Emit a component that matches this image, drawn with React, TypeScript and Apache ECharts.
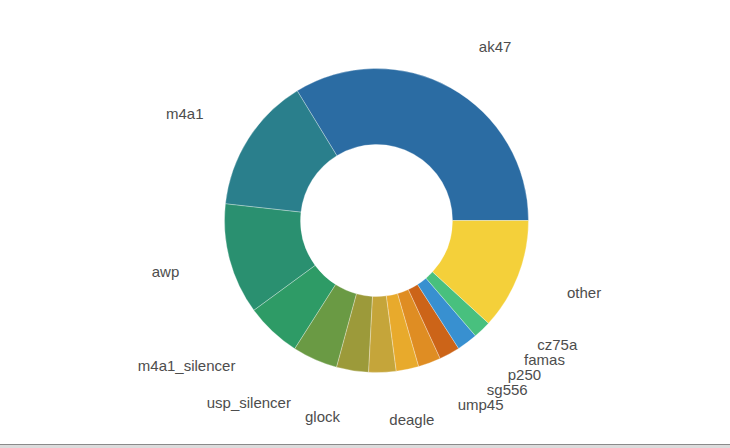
import React, { useEffect, useRef } from "react";
import * as echarts from "echarts";

const categories = [
  "ak47", "m4a1", "awp", "m4a1_silencer", "usp_silencer", "glock", "deagle",
  "ump45", "sg556", "p250", "famas", "cz75a", "other",
];
const values = [33.7, 14.5, 11.8, 5.9, 4.8, 3.4, 2.9, 2.4, 2.4, 2.2, 2.2, 1.9, 11.8];
const colors = [
  "#2b6ca3", "#2a7f8c", "#2a9070", "#2e9b66", "#6a9a44", "#9c9a3a", "#c5a53a",
  "#e8aa2c", "#df8d23", "#cc6418", "#3890d0", "#48c07e", "#f4d03a",
];

const CX = 376.5;
const CY = 220.5;
const R_IN = 76;
const R_OUT = 152;
const LABEL_R = 199;
const LABEL_GAP = 5;
const LINE_STEP = 15;
const MIN_SEP = 14;

// Label placement derived from the data (start angle 0, counter-clockwise),
// with a simple vertical de-overlap on each side.
function computeLabelLayout() {
  const total = values.reduce((a, b) => a + b, 0);
  let acc = 0;
  const items = values.map((v, i) => {
    const mid = ((acc + v / 2) / total) * Math.PI * 2;
    acc += v;
    const c = Math.cos(mid);
    const s = Math.sin(mid);
    return { i, dir: c < 0 ? -1 : 1, y: CY - LABEL_R * s, x: 0 };
  });
  for (const dir of [-1, 1]) {
    const side = items.filter((it) => it.dir === dir);
    const bottom = side.filter((it) => it.y >= CY).sort((a, b) => b.y - a.y);
    let prev = Infinity;
    for (const it of bottom) {
      if (it.y > prev - MIN_SEP) it.y = prev - LINE_STEP;
      prev = it.y;
    }
    const top = side.filter((it) => it.y < CY).sort((a, b) => a.y - b.y);
    prev = -Infinity;
    for (const it of top) {
      if (it.y < prev + MIN_SEP) it.y = prev + LINE_STEP;
      prev = it.y;
    }
  }
  for (const it of items) {
    const dy = Math.abs(it.y - CY);
    const dx = Math.sqrt(Math.max(LABEL_R * LABEL_R - dy * dy, 0));
    it.x = CX + it.dir * (dx + LABEL_GAP);
  }
  return items;
}

export default function App() {
  const ref = useRef<HTMLDivElement>(null);
  useEffect(() => {
    document.body.style.margin = "0";
    if (!ref.current) return;
    const chart = echarts.init(ref.current, undefined, { renderer: "svg" });
    const font = "'Liberation Sans', Arial, sans-serif";
    const layout = computeLabelLayout();
    chart.setOption({
      animation: false,
      backgroundColor: "#ffffff",
      series: [
        {
          type: "pie",
          center: [CX, CY],
          radius: [R_IN, R_OUT],
          startAngle: 0,
          clockwise: false,
          avoidLabelOverlap: false,
          itemStyle: { borderColor: "rgba(255,255,255,0.6)", borderWidth: 0.5 },
          label: {
            show: true,
            position: "outside",
            color: "#4d4d4d",
            fontSize: 15,
            fontFamily: font,
            distanceToLabelLine: LABEL_GAP,
          },
          labelLine: { show: false, length: LABEL_R - R_OUT, length2: 0 },
          labelLayout: (params: any) => {
            const it = layout[params.dataIndex];
            return {
              x: it.x,
              y: it.y,
              align: it.dir < 0 ? "right" : "left",
              verticalAlign: "middle",
            };
          },
          emphasis: { disabled: true },
          data: categories.map((name, i) => ({
            name,
            value: values[i],
            itemStyle: { color: colors[i] },
          })),
        },
      ],
    });
    return () => chart.dispose();
  }, []);
  return (
    <div style={{ position: "relative", width: 730, height: 448 }}>
      <div ref={ref} style={{ width: 730, height: 448 }} />
      <div
        style={{
          position: "absolute",
          left: 0,
          top: 444,
          width: 730,
          height: 4,
          background: "#dcdcdc",
          borderTop: "1px solid #8a8a8a",
          boxSizing: "border-box",
        }}
      />
    </div>
  );
}
